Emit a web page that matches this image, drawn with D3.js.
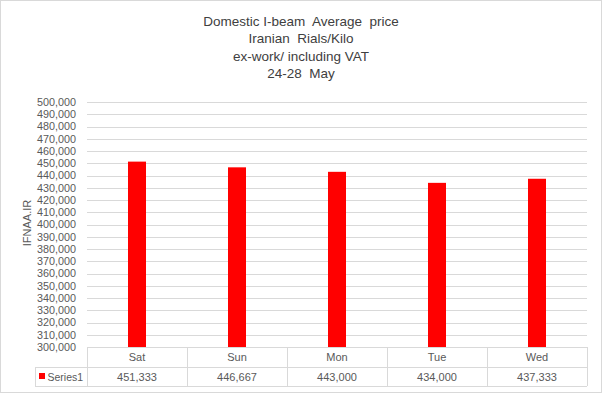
<!DOCTYPE html>
<html><head><meta charset="utf-8">
<script src="https://cdn.jsdelivr.net/npm/d3@7"></script>
<style>body{margin:0;background:#fff}svg{display:block}text{white-space:pre}</style>
</head><body>
<script>
const categories = ["Sat","Sun","Mon","Tue","Wed"];
const values = [451333, 446667, 443000, 434000, 437333];
const seriesName = "Series1";
const titleLines = ["Domestic I-beam  Average  price","Iranian  Rials/Kilo","ex-work/ including VAT","24-28  May"];
const yTicks = d3.range(300000, 500001, 10000);
const yLabel = "IFNAA.IR";

const W = 602, H = 393;
const svg = d3.select("body").append("svg").attr("width", W).attr("height", H);
svg.append("rect").attr("x",0.5).attr("y",0.5).attr("width",W-1).attr("height",H-1)
  .attr("fill","#fff").attr("stroke","#d9d9d9");

const tf = "'Liberation Sans Narrow','Arial Narrow','Liberation Sans',sans-serif";
const lf = "'Liberation Sans',Arial,sans-serif";

svg.append("g").selectAll("text").data(titleLines).join("text")
  .attr("x", 301).attr("y", (d,i)=>26 + i*17.3)
  .attr("text-anchor","middle").attr("font-family", tf).attr("font-size", 13.5)
  .attr("fill","#404040").text(d=>d);

const pLeft = 87, pRight = 587, pTop = 102, pBottom = 347;
const x = d3.scaleBand().domain(categories).range([pLeft, pRight]);
const y = d3.scaleLinear().domain([300000, 500000]).range([pBottom, pTop]);

svg.append("g").selectAll("line").data(yTicks).join("line")
  .attr("x1", pLeft).attr("x2", pRight)
  .attr("y1", d=>Math.round(y(d))+0.5).attr("y2", d=>Math.round(y(d))+0.5)
  .attr("stroke","#d9d9d9");

const fmt = d3.format(",");
const yAxis = d3.axisLeft(y).tickValues(yTicks).tickFormat(fmt).tickSize(0).tickPadding(11);
const ga = svg.append("g").attr("transform",`translate(${pLeft},0)`).call(yAxis);
ga.select(".domain").remove();
ga.selectAll("text").attr("font-family", lf).attr("font-size", 10.8).attr("fill","#595959");

svg.append("text").attr("transform","translate(31,223) rotate(-90)")
  .attr("text-anchor","middle").attr("font-family", lf).attr("font-size", 11)
  .attr("fill","#595959").text(yLabel);

const bw = 18;
svg.append("g").selectAll("rect").data(values).join("rect")
  .attr("x",(d,i)=>x(categories[i]) + x.bandwidth()/2 - bw/2)
  .attr("width", bw)
  .attr("y", d=>y(d)).attr("height", d=>pBottom - y(d))
  .attr("fill","#ff0000");

// data table
const r1 = pBottom, r2 = 367, r3 = 386, tLeft = 35;
const g = svg.append("g").attr("stroke","#d9d9d9").attr("fill","none");
g.append("line").attr("x1",pLeft).attr("x2",pRight).attr("y1",r1+0.5).attr("y2",r1+0.5);
g.append("line").attr("x1",tLeft).attr("x2",pRight).attr("y1",r2+0.5).attr("y2",r2+0.5);
g.append("line").attr("x1",tLeft).attr("x2",pRight).attr("y1",r3+0.5).attr("y2",r3+0.5);
g.append("line").attr("x1",tLeft+0.5).attr("x2",tLeft+0.5).attr("y1",r2).attr("y2",r3);
const cols = categories.map(c=>x(c)).concat([pRight]);
g.selectAll(".v").data(cols).join("line")
  .attr("x1",d=>Math.round(d)+0.5).attr("x2",d=>Math.round(d)+0.5)
  .attr("y1",r1).attr("y2",r3);

svg.append("g").selectAll("text").data(categories).join("text")
  .attr("x", d=>x(d)+x.bandwidth()/2).attr("y", (r1+r2)/2 + 4)
  .attr("text-anchor","middle").attr("font-family", lf).attr("font-size", 11)
  .attr("fill","#595959").text(d=>d);
svg.append("g").selectAll("text").data(values).join("text")
  .attr("x", (d,i)=>x(categories[i])+x.bandwidth()/2).attr("y", (r2+r3)/2 + 4)
  .attr("text-anchor","middle").attr("font-family", lf).attr("font-size", 11)
  .attr("fill","#595959").text(d=>fmt(d));

svg.append("rect").attr("x",39).attr("y",373).attr("width",6).attr("height",6).attr("fill","#ff0000");
svg.append("text").attr("x",47.5).attr("y",(r2+r3)/2+4).attr("font-family", lf).attr("font-size", 10.5)
  .attr("fill","#595959").text(seriesName);
</script>
</body></html>
